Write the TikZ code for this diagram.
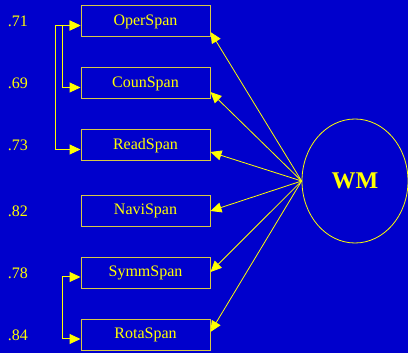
\documentclass[tikz,border=0pt]{standalone}
\usepackage{fontspec}
\setmainfont{Liberation Serif}
\usepackage{xcolor}
\usepackage{tikz}
\usetikzlibrary{positioning,arrows.meta,shapes.geometric}

\definecolor{bgblue}{RGB}{0,0,204}
\definecolor{lineyel}{RGB}{255,255,0}
\definecolor{boxyel}{RGB}{214,200,70}

\begin{document}
\begin{tikzpicture}[x=1pt,y=-1pt,
    obs/.style={draw=boxyel,line width=1pt,minimum width=129pt,minimum height=31pt,
      inner sep=0pt,text=lineyel,font=\fontsize{16}{18}\selectfont},
    err/.style={text=lineyel,font=\fontsize{16}{18}\selectfont},
    lat/.style={draw=lineyel,ellipse,line width=0.8pt,minimum width=106pt,minimum height=124pt,
      inner sep=0pt,text=lineyel,font=\fontsize{24}{26}\selectfont\bfseries},
    load/.style={draw=lineyel,line width=0.8pt,-{Triangle[length=11pt,width=10pt]}},
    cov/.style={draw=lineyel,line width=1pt,{Triangle[length=11pt,width=10pt]}-{Triangle[length=11pt,width=10pt]}}]
      \fill[bgblue] (0,0) rectangle (408,353);
      \useasboundingbox (0,0) rectangle (408,353);
      % indicators
      \node[obs] (oper) at (145.5,21.5) {OperSpan};
      \node[obs] (coun) at (145.5,83.5) {CounSpan};
      \node[obs] (read) at (145.5,145.5) {ReadSpan};
      \node[obs] (navi) at (145.5,211) {NaviSpan};
      \node[obs] (symm) at (145.5,273) {SymmSpan};
      \node[obs] (rota) at (145.5,335) {RotaSpan};
      % residual variances
      \node[err] (eoper) at (18,21.5) {.71};
      \node[err] (ecoun) at (18,83.5) {.69};
      \node[err] (eread) at (18,145.5) {.73};
      \node[err] (enavi) at (18,211) {.82};
      \node[err] (esymm) at (18,273) {.78};
      \node[err] (erota) at (18,335) {.84};
      % factor
      \node[lat] (wm) at (355,181) {WM};
      \foreach \n/\s in {oper/-10.5,coun/-8.5,read/-6.5,navi/0,symm/1,rota/3}
        \draw[load] (wm.west) -- ([yshift=\s pt]\n.east);
      % correlated errors
      \draw[cov] ([yshift=-4pt]oper.west) -- ++(-25,0) |- ([yshift=-4pt]read.west);
      \draw[cov] ([yshift=-4pt]oper.west) -- ++(-18,0) |- ([yshift=-4pt]coun.west);
      \draw[cov] ([yshift=-4pt]symm.west) -- ++(-18,0) |- ([yshift=-4pt]rota.west);
    \end{tikzpicture}
\end{document}
